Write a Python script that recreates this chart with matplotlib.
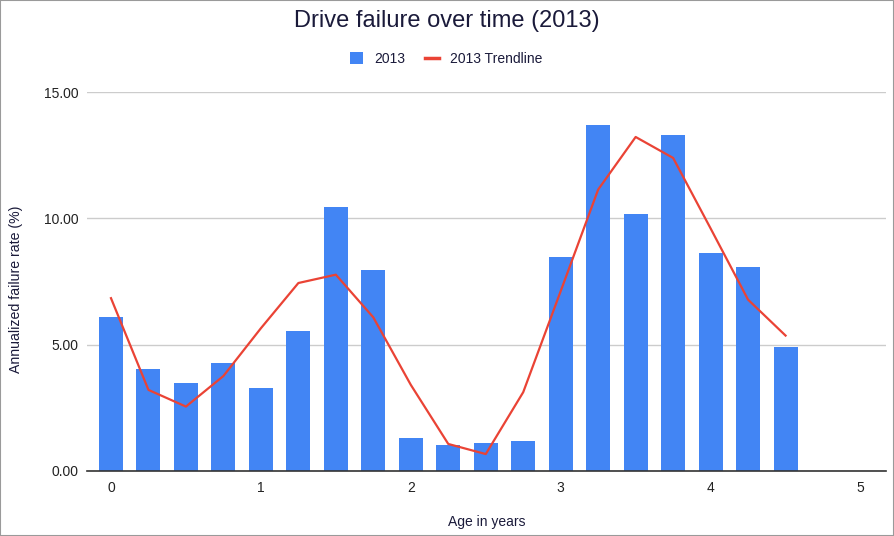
import matplotlib.pyplot as plt
from matplotlib.patches import Patch, Rectangle
from matplotlib.lines import Line2D

plt.rcParams['font.family'] = ['Liberation Sans', 'DejaVu Sans']

# age buckets (years) and annualized failure rate (%)
ages = [0, 0.25, 0.5, 0.75, 1, 1.25, 1.5, 1.75, 2, 2.25,
        2.5, 2.75, 3, 3.25, 3.5, 3.75, 4, 4.25, 4.5]
rate_2013 = [6.10, 4.03, 3.47, 4.27, 3.28, 5.53, 10.45, 7.95, 1.29, 1.02,
             1.11, 1.18, 8.47, 13.71, 10.17, 13.28, 8.61, 8.08, 4.89]
trend_2013 = [6.84, 3.21, 2.55, 3.76, 5.65, 7.44, 7.77, 6.08, 3.41, 1.07,
              0.67, 3.12, 7.12, 11.14, 13.22, 12.39, 9.6, 6.78, 5.36]
x_ticks = [0, 1, 2, 3, 4, 5]
y_ticks = [0, 5, 10, 15]

blue = '#4285F4'
red = '#EA4335'
txt = '#1a1a3a'

W, H = 894, 536
fig = plt.figure(figsize=(W / 100, H / 100), dpi=100)
ax = fig.add_axes([87 / W, 1 - 471 / H, (886 - 87) / W, (471 - 92) / H])

ax.bar(ages, rate_2013, width=0.16, color=blue, zorder=2)
ax.plot(ages, trend_2013, color=red, lw=1.6, zorder=3)

ax.set_xlim(-0.16, 5.17)
ax.set_ylim(0, 15)
ax.set_xticks(x_ticks)
ax.set_xticklabels([str(t) for t in x_ticks])
ax.set_yticks(y_ticks)
ax.set_yticklabels(['%.2f' % t for t in y_ticks])
ax.tick_params(axis='both', length=0, labelsize=10, labelcolor='#222222')
ax.tick_params(axis='y', pad=6)
ax.tick_params(axis='x', pad=7)

ax.grid(axis='y', color='#cccccc', lw=1, zorder=0)
for s in ['top', 'right', 'left']:
    ax.spines[s].set_visible(False)
ax.spines['bottom'].set_color('#333333')
ax.spines['bottom'].set_linewidth(1.2)
ax.spines['bottom'].set_zorder(4)

ax.set_xlabel('Age in years', fontsize=10, color=txt)
ax.xaxis.set_label_coords(0.5, (471 - 522) / 379)
ax.xaxis.label.set_va('center')
ax.set_ylabel('Annualized failure rate (%)', fontsize=10.2, color=txt)
ax.yaxis.set_label_coords((16 - 87) / 799, (471 - 289) / 379)
ax.yaxis.label.set_va('center')

fig.text(447 / W, 1 - 21 / H, 'Drive failure over time (2013)', ha='center', va='center',
         fontsize=17, color=txt)

handles = [Patch(facecolor=blue, edgecolor='none'),
           Line2D([0], [0], color=red, lw=2.5)]
fig.legend(handles, ['2013', '2013 Trendline'], loc='center',
           bbox_to_anchor=(446 / W, 1 - 59 / H), ncol=2, frameon=False,
           fontsize=10, handlelength=1.0, handleheight=1.0,
           handletextpad=0.8, columnspacing=1.4, labelcolor=txt)

fig.patches.append(Rectangle((0, 0), 1, 1, transform=fig.transFigure,
                             fill=False, edgecolor='#9a9a9a', lw=1.5))

fig.savefig('out.png', dpi=100)
